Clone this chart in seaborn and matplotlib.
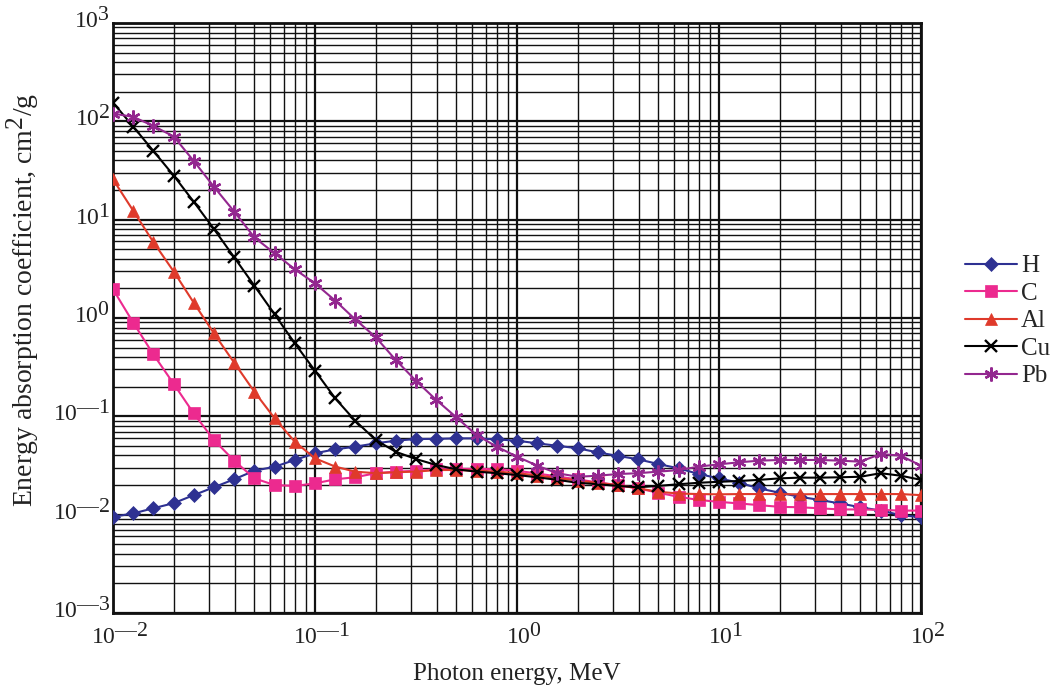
import numpy as np
import pandas as pd
import matplotlib
matplotlib.use("Agg")
import matplotlib.pyplot as plt
import matplotlib.transforms as mtransforms
from matplotlib.ticker import LogLocator, FixedLocator, NullFormatter
import seaborn as sns

# Photon energies (MeV)
energy = [0.01, 0.0126, 0.0158, 0.02, 0.0251, 0.0316, 0.0398, 0.0501, 0.0631, 0.0794,
          0.1, 0.126, 0.158, 0.2, 0.251, 0.316, 0.398, 0.501, 0.631, 0.794,
          1.0, 1.26, 1.58, 2.0, 2.51, 3.16, 3.98, 5.01, 6.31, 7.94,
          10.0, 12.6, 15.8, 20.0, 25.1, 31.6, 39.8, 50.1, 63.1, 79.4, 100.0]

# Mass energy-absorption coefficients (cm^2/g)
mu_H = [0.0095, 0.0103, 0.0116, 0.0131, 0.0158, 0.0190, 0.0229, 0.0280, 0.0307, 0.0360,
        0.0421, 0.0462, 0.0491, 0.0532, 0.0565, 0.0588, 0.0590, 0.0597, 0.0597, 0.0583,
        0.0565, 0.0532, 0.0502, 0.0473, 0.0430, 0.0396, 0.0366, 0.0327, 0.0296, 0.0259,
        0.0234, 0.0211, 0.0185, 0.0167, 0.0152, 0.0141, 0.0130, 0.0119, 0.0110, 0.0099,
        0.0094]
mu_C = [1.96, 0.896, 0.430, 0.213, 0.107, 0.0574, 0.0354, 0.0234, 0.0200, 0.0196,
        0.0208, 0.0229, 0.0240, 0.0264, 0.0274, 0.0279, 0.0289, 0.0292, 0.0292, 0.0290,
        0.0280, 0.0262, 0.0245, 0.0228, 0.0213, 0.0200, 0.0185, 0.0167, 0.0152, 0.0141,
        0.0135, 0.0130, 0.0125, 0.0120, 0.0119, 0.0116, 0.0113, 0.0113, 0.0112, 0.0110,
        0.0110]
mu_Al = [25.7, 12.3, 5.97, 2.96, 1.43, 0.698, 0.351, 0.178, 0.0955, 0.0552,
         0.0374, 0.0308, 0.0274, 0.0264, 0.0270, 0.0274, 0.0284, 0.0285, 0.0280, 0.0274,
         0.0265, 0.0250, 0.0236, 0.0222, 0.0210, 0.0200, 0.0185, 0.0171, 0.0164, 0.0162,
         0.0161, 0.0162, 0.0162, 0.0162, 0.0161, 0.0162, 0.0162, 0.0162, 0.0162, 0.0162,
         0.0158]
mu_Cu = [155.0, 88.3, 50.3, 28.0, 15.2, 8.04, 4.14, 2.13, 1.09, 0.553,
         0.291, 0.152, 0.0903, 0.0574, 0.0436, 0.0368, 0.0320, 0.0289, 0.0274, 0.0264,
         0.0253, 0.0240, 0.0226, 0.0211, 0.0204, 0.0196, 0.0190, 0.0196, 0.0204, 0.0211,
         0.0216, 0.0220, 0.0226, 0.0234, 0.0238, 0.0238, 0.0240, 0.0243, 0.0264, 0.0249,
         0.0226]
mu_Pb = [120.0, 111.0, 90.0, 70.0, 39.5, 21.6, 12.1, 6.6, 4.55, 3.13,
         2.25, 1.50, 0.97, 0.637, 0.374, 0.230, 0.147, 0.0977, 0.0645, 0.0491,
         0.0389, 0.0315, 0.0264, 0.0243, 0.0249, 0.0259, 0.0264, 0.0274, 0.0284, 0.0308,
         0.0325, 0.0341, 0.0354, 0.0360, 0.0360, 0.0360, 0.0354, 0.0346, 0.0414, 0.0398,
         0.0315]

elements = ["H", "C", "Al", "Cu", "Pb"]
series = [mu_H, mu_C, mu_Al, mu_Cu, mu_Pb]

colors = {"H": "#2e3192", "C": "#ec2a8f", "Al": "#df3a2b", "Cu": "#000000", "Pb": "#93278f"}
markers = {"H": "D", "C": "s", "Al": "^", "Cu": "x", "Pb": (6, 2, 0)}
msizes = {"H": 7, "C": 8.5, "Al": 9, "Cu": 9, "Pb": 10}
medgew = {"H": 0.5, "C": 0.5, "Al": 0.5, "Cu": 1.7, "Pb": 1.7}

# Near full-size superscripts for the power-of-ten labels
try:
    import matplotlib._mathtext as _mt
    _mt.SHRINK_FACTOR = 0.92
except Exception:
    pass

sns.set_theme(style="white")
plt.rcParams["font.family"] = ["Liberation Serif", "DejaVu Serif"]
plt.rcParams["mathtext.fontset"] = "custom"
plt.rcParams["mathtext.rm"] = "Liberation Serif"

fig = plt.figure(figsize=(10.55, 6.93), dpi=100)
ax = fig.add_axes([113 / 1055, 1 - 613 / 693, (921 - 113) / 1055, (613 - 23) / 693])

for el, vals in zip(elements, series):
    d = pd.DataFrame({"energy": energy, "mu": vals})
    c = colors[el]
    sns.lineplot(data=d, x="energy", y="mu", color=c, marker=markers[el],
                 markersize=msizes[el], markerfacecolor=c, markeredgecolor=c,
                 markeredgewidth=medgew[el], linewidth=1.5, label=el,
                 legend=False, ax=ax, zorder=3)

ax.set_xscale("log")
ax.set_yscale("log")
ax.set_xlim(1e-2, 1e2)
ax.set_ylim(1e-3, 1e3)


def pow_label(v):
    e = int(round(np.log10(v)))
    s = f"{e}" if e >= 0 else f"—{-e}"
    return r"$\mathregular{10^{" + s + "}}$"


xt = [1e-2, 1e-1, 1e0, 1e1, 1e2]
yt = [1e-3, 1e-2, 1e-1, 1e0, 1e1, 1e2, 1e3]
ax.xaxis.set_major_locator(FixedLocator(xt))
ax.yaxis.set_major_locator(FixedLocator(yt))
ax.set_xticklabels([pow_label(v) for v in xt])
ax.set_yticklabels([pow_label(v) for v in yt])
ax.xaxis.set_minor_locator(LogLocator(base=10, subs=np.arange(2, 10), numticks=20))
ax.yaxis.set_minor_locator(LogLocator(base=10, subs=np.arange(2, 10), numticks=20))
ax.xaxis.set_minor_formatter(NullFormatter())
ax.yaxis.set_minor_formatter(NullFormatter())

ax.tick_params(which="both", length=0, labelsize=17, colors="#222222")
ax.tick_params(axis="x", pad=7)
ax.tick_params(axis="y", pad=2)

# nudge the tick labels so the "10" sits by its grid line
lift = mtransforms.ScaledTranslation(0, 4 / 72, fig.dpi_scale_trans)
for lab in ax.get_yticklabels():
    lab.set_transform(lab.get_transform() + lift)
shift = mtransforms.ScaledTranslation(5 / 72, 0, fig.dpi_scale_trans)
for lab in ax.get_xticklabels():
    lab.set_transform(lab.get_transform() + shift)

ax.grid(True, which="major", color="#111111", linewidth=1.6)
ax.grid(True, which="minor", color="#111111", linewidth=1.0)
ax.set_axisbelow(True)
for sp in ax.spines.values():
    sp.set_color("#111111")
    sp.set_linewidth(2.0)

ax.set_xlabel("Photon energy, MeV", fontsize=18, color="#222222", labelpad=10)
ax.set_ylabel(r"Energy absorption coefficient, $\mathregular{cm^2}$/g",
              fontsize=20, color="#222222")
ax.yaxis.set_label_coords(-0.089, 0.53)

ax.legend(handles=ax.get_lines(), labels=elements, loc="center left",
          bbox_to_anchor=(965 / 1055, 1 - 321 / 693), bbox_transform=fig.transFigure,
          frameon=False, fontsize=18, handlelength=2.08, handletextpad=0.15,
          labelspacing=0.2, borderpad=0, borderaxespad=0, numpoints=1)

fig.savefig("out.png", dpi=100)
